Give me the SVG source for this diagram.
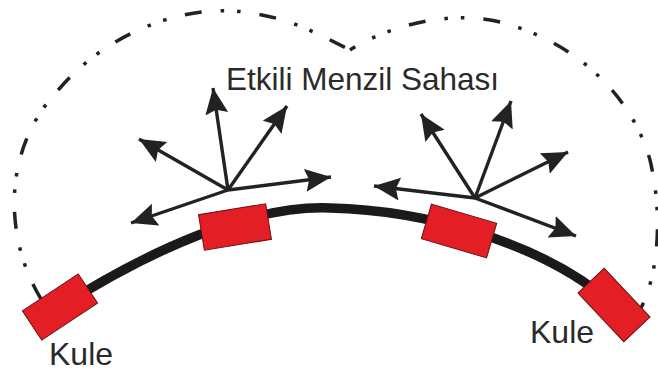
<svg xmlns="http://www.w3.org/2000/svg" width="658" height="374" viewBox="0 0 658 374">
<defs>
<marker id="ah" markerUnits="userSpaceOnUse" markerWidth="28" markerHeight="24" refX="26" refY="11.5" orient="auto" viewBox="0 0 28 24">
<path d="M0,0 L26,11.5 L0,23 L4,11.5 z" fill="#222"/>
</marker>
<style>
.bnd{fill:none;stroke:#222;stroke-width:3.5;stroke-dasharray:17 19 3.5 13 3.5 19}
.arr{stroke:#222;stroke-width:3.4;fill:none;marker-end:url(#ah)}
.box{fill:#e31e24;stroke:#6a1214;stroke-width:1}
.lbl{font-family:"Liberation Sans",Arial,sans-serif;fill:#2a2a2a}
</style>
</defs>
<rect width="658" height="374" fill="#fff"/>
<g id="boundary">
<path class="bnd" d="M41,299 C5,240 0,150 60,88 C110,30 190,2 250,13 C290,18 320,35 350,50"/>
<path class="bnd" style="stroke-dashoffset:11" d="M641,308 C660,270 662,210 650,160 C630,90 570,40 500,22 C450,10 390,25 350,50"/>
</g>
<g id="track">
<path d="M60,307 C150,250 250,205 330,208 C420,210 540,240 614,305" fill="none" stroke="#1a1a1a" stroke-width="9.5"/>
</g>
<g id="connectors">
<line class="arr" x1="228" y1="190" x2="139" y2="139"/>
<line class="arr" x1="228" y1="190" x2="213" y2="88"/>
<line class="arr" x1="228" y1="190" x2="287" y2="106"/>
<line class="arr" x1="228" y1="190" x2="331" y2="177"/>
<line class="arr" x1="228" y1="190" x2="131" y2="223"/>
<line class="arr" x1="475" y1="198" x2="421" y2="114"/>
<line class="arr" x1="475" y1="198" x2="511" y2="101"/>
<line class="arr" x1="475" y1="198" x2="568" y2="152"/>
<line class="arr" x1="475" y1="198" x2="374" y2="186"/>
<line class="arr" x1="475" y1="198" x2="576" y2="236"/>
</g>
<g id="tower-left"><rect class="box" x="-33.5" y="-17.5" width="67" height="35" transform="translate(60,307) rotate(-33.5)"/></g>
<g id="repeater-1"><rect class="box" x="-34" y="-18" width="68" height="36" transform="translate(235,227) rotate(-9.3)"/></g>
<g id="repeater-2"><rect class="box" x="-34" y="-18" width="68" height="36" transform="translate(459,231) rotate(16.3)"/></g>
<g id="tower-right"><rect class="box" x="-33.5" y="-18" width="67" height="36" transform="translate(614,305) rotate(46.8)"/></g>
<g id="labels">
<text class="lbl" x="226" y="90" font-size="31.5">Etkili Menzil Sahası</text>
<text class="lbl" x="49" y="365" font-size="32">Kule</text>
<text class="lbl" x="530" y="343" font-size="32">Kule</text>
</g>
</svg>
